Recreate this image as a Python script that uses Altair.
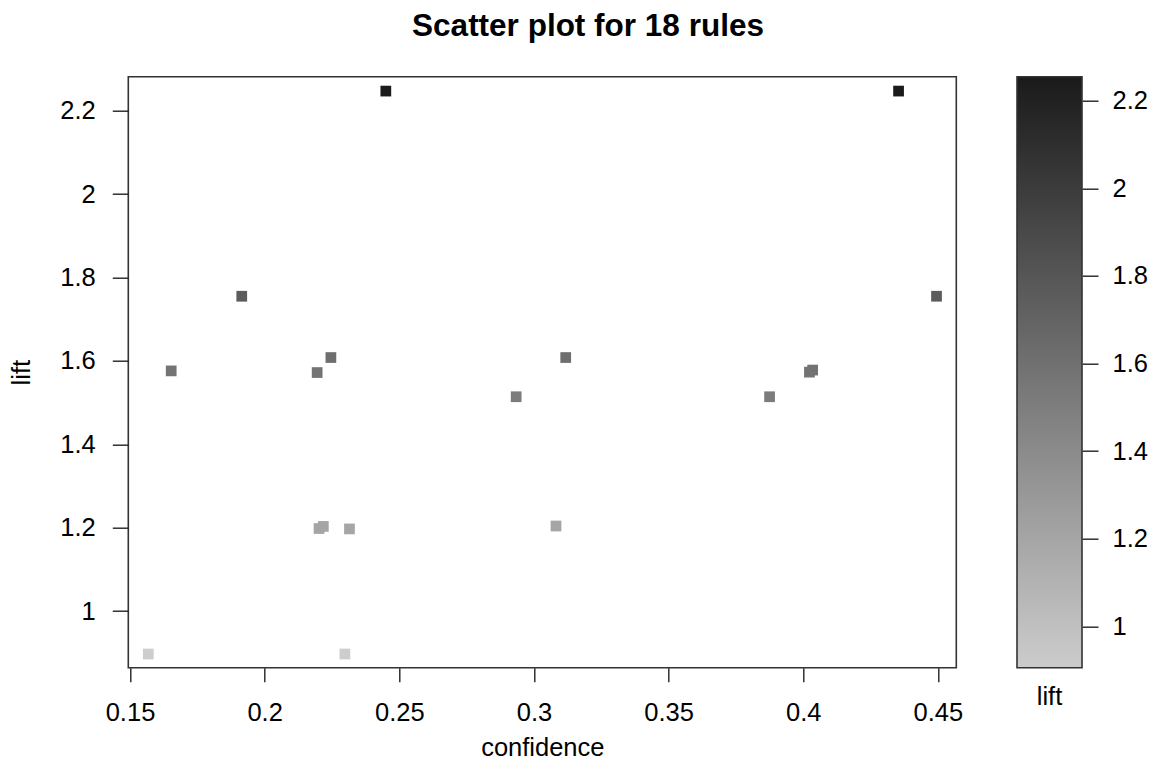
import altair as alt
import pandas as pd

# ---- data ----
confidence = [0.2450, 0.4354, 0.1915, 0.4495, 0.1653, 0.2195, 0.2246, 0.3118, 0.2934,
              0.3875, 0.4023, 0.4035, 0.2202, 0.2218, 0.2315, 0.3082, 0.1568, 0.2298]
lift = [2.247, 2.247, 1.755, 1.755, 1.576, 1.572, 1.608, 1.608, 1.514,
        1.514, 1.573, 1.578, 1.198, 1.203, 1.197, 1.204, 0.897, 0.897]
conf_ticks = [0.15, 0.2, 0.25, 0.3, 0.35, 0.4, 0.45]
lift_ticks = [1.0, 1.2, 1.4, 1.6, 1.8, 2.0, 2.2]
key_range = [0.9057, 2.2548]          # colour key extent (lift)
x_domain = [0.14937, 0.45684]
y_domain = [0.8642, 2.2815]
gray_light, gray_dark = "#cccccc", "#1a1a1a"

FONT = "Liberation Sans"
LS = 25.5
W, H = 828, 591

df = pd.DataFrame({"confidence": confidence, "lift": lift})
key_df = pd.DataFrame({"lo": [key_range[0]], "hi": [key_range[1]]})

color_scale = alt.Scale(domain=key_range, range=[gray_light, gray_dark], interpolate="rgb")

scatter = alt.Chart(df).mark_square(size=115, opacity=1, filled=True).encode(
    x=alt.X("confidence:Q",
            scale=alt.Scale(domain=x_domain, nice=False, zero=False),
            axis=alt.Axis(values=conf_ticks, format="~g", title="confidence",
                          tickSize=14, labelPadding=19, titlePadding=9.5)),
    y=alt.Y("lift:Q",
            scale=alt.Scale(domain=y_domain, nice=False, zero=False),
            axis=alt.Axis(values=lift_ticks, format="~g", title="lift",
                          tickSize=16, labelPadding=17, titlePadding=25)),
    color=alt.Color("lift:Q", scale=color_scale, legend=None),
)

# colour key (to the right of the plot area)
key_bar = alt.Chart(key_df).mark_rect(
    fill=alt.Gradient(gradient="linear",
                      stops=[alt.GradientStop(color=gray_light, offset=0),
                             alt.GradientStop(color=gray_dark, offset=1)],
                      x1=0, x2=0, y1=1, y2=0),
    stroke="#333333", strokeWidth=1.6,
).encode(
    x=alt.value(888.7), x2=alt.value(953.7),
    y=alt.Y("lo:Q", scale=alt.Scale(domain=key_range, nice=False, zero=False),
            axis=alt.Axis(orient="right", offset=125.7, values=lift_ticks, format="~g",
                          title=None, tickSize=16, labelPadding=14)),
    y2="hi:Q",
)

key_title = alt.Chart(key_df).mark_text(
    text="lift", font=FONT, fontSize=LS, align="center", baseline="alphabetic", color="#000"
).encode(x=alt.value(921.2), y=alt.value(628.3))

chart = alt.layer(scatter, key_bar, key_title).resolve_scale(y="independent").properties(
    width=W, height=H,
    autosize=alt.AutoSizeParams(type="none"),
    padding={"left": 120.3, "top": 68.7, "right": 192.7, "bottom": 93.3},
    title=alt.TitleParams("Scatter plot for 18 rules", fontSize=31.5, fontWeight="bold",
                          font=FONT, anchor="middle", frame="group", dx=45.7,
                          offset=33.5, color="#000"),
).configure_view(
    stroke="#333333", strokeWidth=1.6
).configure_axis(
    labelFont=FONT, labelFontSize=LS, labelColor="#000",
    titleFont=FONT, titleFontSize=LS, titleFontWeight="normal", titleColor="#000",
    tickColor="#222222", tickWidth=1.4, grid=False, domain=False,
)

chart.save("out.html", embed_options={"renderer": "svg", "actions": False})
